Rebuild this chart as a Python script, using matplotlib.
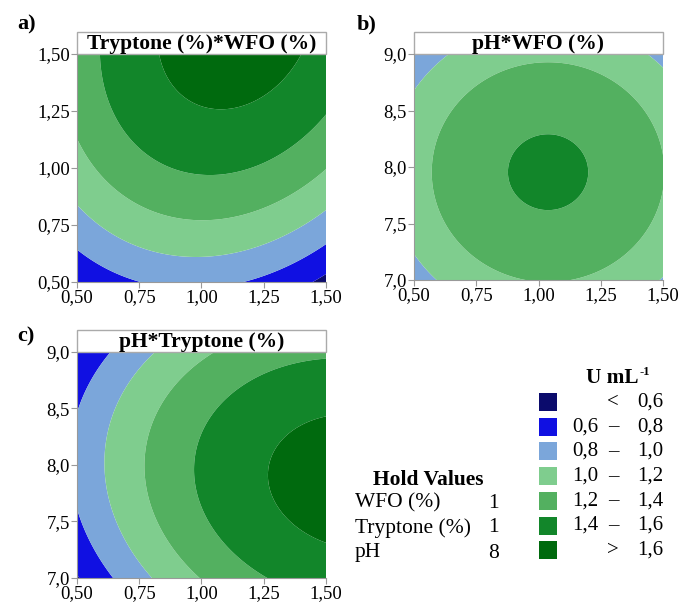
import numpy as np
import matplotlib
matplotlib.use("Agg")
import matplotlib.pyplot as plt
from matplotlib.patches import Rectangle

plt.rcParams['font.family'] = ['Liberation Serif', 'DejaVu Serif']

# ---- fitted quadratic response surface (coded units: T=Tryptone, W=WFO, P=pH) ----
intercept = 1.425
linear = [0.414, 0.040, -0.022]            # bT, bW, bP
quadratic = [-0.168, -0.260, -0.240]       # bTT, bWW, bPP
interaction = [0.080, -0.040, 0.000]       # bTW, bTP, bWP

# factor ranges (low, high)
tryptone_range = [0.5, 1.5]
wfo_range = [0.5, 1.5]
ph_range = [7.0, 9.0]

# hold values
hold_names = ["WFO (%)", "Tryptone (%)", "pH"]
hold_values = [1, 1, 8]

levels = [0.6, 0.8, 1.0, 1.2, 1.4, 1.6]
legend_low = ["", "0,6", "0,8", "1,0", "1,2", "1,4", ""]
legend_sym = ["<", "\u2013", "\u2013", "\u2013", "\u2013", "\u2013", ">"]
legend_high = ["0,6", "0,8", "1,0", "1,2", "1,4", "1,6", "1,6"]
colors = ["#0b0b6c", "#1010e2", "#7ba6da", "#7fcd8e", "#53b060", "#12862a", "#006a0e"]

pct_ticks = [0.50, 0.75, 1.00, 1.25, 1.50]
ph_ticks = [7.0, 7.5, 8.0, 8.5, 9.0]

panels = [
    ("a)", "Tryptone (%)*WFO (%)", "W", "T"),
    ("b)", "pH*WFO (%)", "W", "P"),
    ("c)", "pH*Tryptone (%)", "T", "P"),
]

ranges = {"T": tryptone_range, "W": wfo_range, "P": ph_range}
holds = {"W": hold_values[0], "T": hold_values[1], "P": hold_values[2]}


def code(v, r):
    c = (r[0] + r[1]) / 2
    h = (r[1] - r[0]) / 2
    return (v - c) / h


def response(T, W, P):
    bT, bW, bP = linear
    bTT, bWW, bPP = quadratic
    bTW, bTP, bWP = interaction
    return (intercept + bT * T + bW * W + bP * P + bTT * T**2 + bWW * W**2 + bPP * P**2
            + bTW * T * W + bTP * T * P + bWP * W * P)


W_, H_ = 683, 608
fig = plt.figure(figsize=(W_ / 100, H_ / 100), dpi=100)

boxes = [(77, 54, 326, 282), (414, 54, 663, 280), (77, 352, 326, 578)]
label_pos = [(17, 24), (357, 24), (17, 336)]

for (lab, title, xf, yf), (x0, y0, x1, y1), (lx, ly) in zip(panels, boxes, label_pos):
    ax = fig.add_axes([x0 / W_, 1 - y1 / H_, (x1 - x0) / W_, (y1 - y0) / H_])
    xr, yr = ranges[xf], ranges[yf]
    xs = np.linspace(xr[0], xr[1], 400)
    ys = np.linspace(yr[0], yr[1], 400)
    X, Y = np.meshgrid(xs, ys)
    coded = {k: code(holds[k], ranges[k]) * np.ones_like(X) for k in "TWP"}
    coded[xf] = code(X, xr)
    coded[yf] = code(Y, yr)
    Z = response(coded["T"], coded["W"], coded["P"])
    ax.contourf(X, Y, Z, levels=[-10] + levels + [10], colors=colors, antialiased=True)
    ax.set_xlim(xr)
    ax.set_ylim(yr)
    xt = pct_ticks if xf != "P" else ph_ticks
    yt = pct_ticks if yf != "P" else ph_ticks
    ax.set_xticks(xt)
    ax.set_yticks(yt)
    fmt_x = "{:.2f}" if xf != "P" else "{:.1f}"
    fmt_y = "{:.2f}" if yf != "P" else "{:.1f}"
    ax.set_xticklabels([fmt_x.format(v).replace(".", ",") for v in xt], fontsize=13.5)
    ax.set_yticklabels([fmt_y.format(v).replace(".", ",") for v in yt], fontsize=13.5)
    ax.tick_params(length=4, width=0.8, color="#999999", pad=1)
    for s in ["top", "right"]:
        ax.spines[s].set_visible(False)
    for s in ["left", "bottom"]:
        ax.spines[s].set_color("#999999")
        ax.spines[s].set_linewidth(0.8)
    th = 22 / (y1 - y0)
    rect = Rectangle((0, 1), 1, th, transform=ax.transAxes, facecolor="white",
                     edgecolor="#aaaaaa", linewidth=1.0, clip_on=False)
    ax.add_patch(rect)
    ax.text(0.5, 1 + th / 2 - 0.005, title, transform=ax.transAxes, ha="center", va="center",
            fontsize=15.5, fontweight="bold")
    fig.text(lx / W_, 1 - ly / H_, lab, fontsize=16, fontweight="bold", ha="left", va="center")

# legend: U mL-1
fig.text(638 / W_, 1 - 378 / H_, "U mL", fontsize=15.3, fontweight="bold", ha="right", va="center")
fig.text(639 / W_, 1 - 372 / H_, "-1", fontsize=9, fontweight="bold", ha="left", va="center")
for i, c in enumerate(colors):
    yc = 402 + i * 24.7
    fig.patches.append(Rectangle((539 / W_, 1 - (yc + 9) / H_), 18 / W_, 18 / H_,
                                 transform=fig.transFigure, facecolor=c, edgecolor="none"))
    if legend_low[i]:
        fig.text(598 / W_, 1 - yc / H_, legend_low[i], fontsize=15, ha="right", va="center")
    fig.text(613 / W_, 1 - yc / H_, legend_sym[i], fontsize=15, ha="center", va="center")
    fig.text(663 / W_, 1 - yc / H_, legend_high[i], fontsize=15, ha="right", va="center")

# hold values
fig.text(428 / W_, 1 - 480 / H_, "Hold Values", fontsize=15.5, fontweight="bold", ha="center", va="center")
for i, (n, v) in enumerate(zip(hold_names, hold_values)):
    yc = 503 + i * 25
    fig.text(355 / W_, 1 - yc / H_, n, fontsize=15.5, ha="left", va="center")
    fig.text(499 / W_, 1 - yc / H_, str(v), fontsize=15.5, ha="right", va="center")

fig.savefig("out.png", dpi=100)
